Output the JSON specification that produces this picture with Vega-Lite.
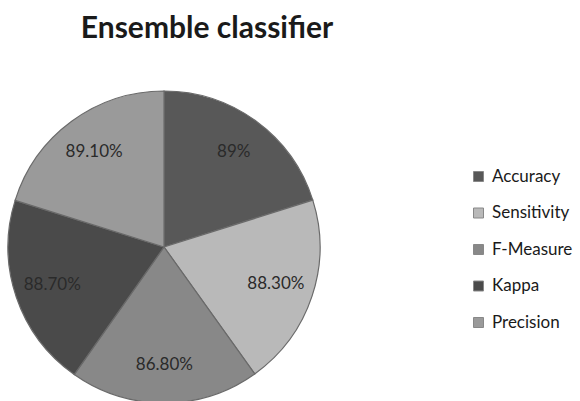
{
  "$schema": "https://vega.github.io/schema/vega-lite/v6.json",
  "autosize": "none",
  "width": 312,
  "height": 312,
  "padding": {"left": 8, "top": 91, "right": 260, "bottom": 0},
  "background": "white",
  "title": {
    "text": "Ensemble classifier",
    "font": "Lato",
    "fontSize": 30,
    "fontWeight": "bold",
    "color": "#1a1a1a",
    "anchor": "middle",
    "frame": "group",
    "dx": 43,
    "offset": 21,
    "baseline": "alphabetic"
  },
  "data": {
    "values": [
      {"metric": "Accuracy", "value": 89.0, "label": "89%", "order": 1},
      {"metric": "Sensitivity", "value": 88.3, "label": "88.30%", "order": 2},
      {"metric": "F-Measure", "value": 86.8, "label": "86.80%", "order": 3},
      {"metric": "Kappa", "value": 88.7, "label": "88.70%", "order": 4},
      {"metric": "Precision", "value": 89.1, "label": "89.10%", "order": 5}
    ]
  },
  "encoding": {
    "theta": {"field": "value", "type": "quantitative", "stack": true},
    "order": {"field": "order", "type": "quantitative"},
    "color": {
      "field": "metric",
      "type": "nominal",
      "sort": ["Accuracy", "Sensitivity", "F-Measure", "Kappa", "Precision"],
      "scale": {
        "domain": ["Accuracy", "Sensitivity", "F-Measure", "Kappa", "Precision"],
        "range": ["#585858", "#b9b9b9", "#888888", "#4a4a4a", "#9a9a9a"]
      },
      "legend": {
        "title": null,
        "orient": "none",
        "legendX": 462,
        "legendY": 77,
        "symbolType": "square",
        "symbolSize": 100,
        "symbolStrokeColor": "#888",
        "symbolStrokeWidth": 1,
        "labelFont": "Lato",
        "labelFontSize": 17,
        "labelColor": "#1a1a1a",
        "rowPadding": 18.5,
        "labelOffset": 5
      }
    }
  },
  "layer": [
    {
      "mark": {"type": "arc", "outerRadius": 156, "stroke": "#6a6a6a", "strokeWidth": 1.2}
    },
    {
      "mark": {"type": "text", "radius": 118, "font": "Lato", "fontSize": 17, "color": "#2a2a2a"},
      "encoding": {
        "text": {"field": "label", "type": "nominal"},
        "color": {"value": "#2a2a2a"}
      }
    }
  ]
}
